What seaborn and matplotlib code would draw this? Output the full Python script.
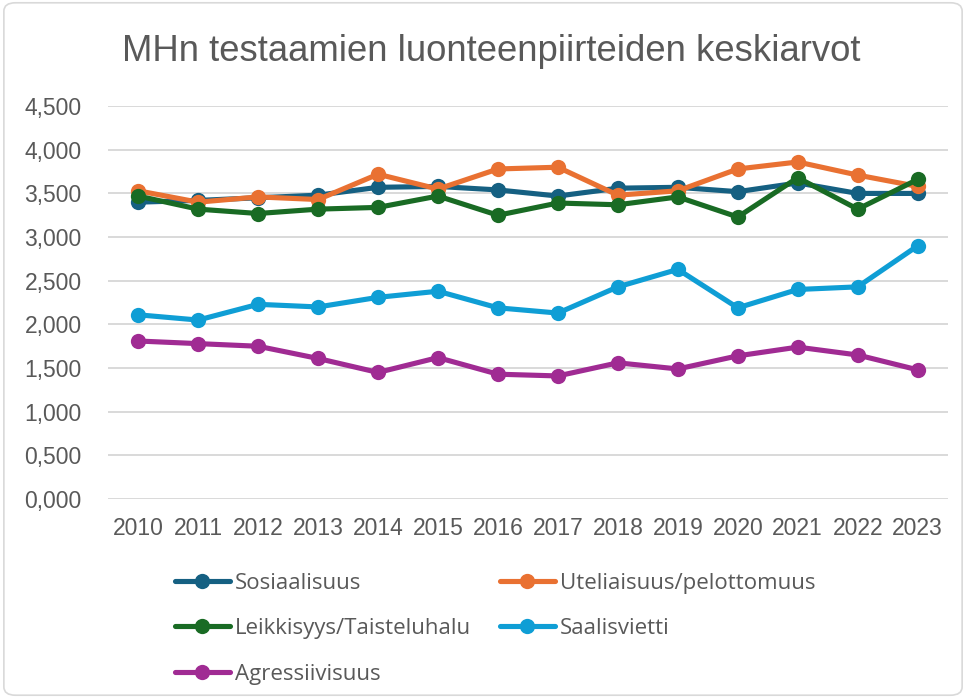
import matplotlib
matplotlib.use("Agg")
import matplotlib.pyplot as plt
import pandas as pd
import seaborn as sns
from matplotlib.lines import Line2D
from matplotlib.patches import FancyBboxPatch
from matplotlib.ticker import FuncFormatter

years = list(range(2010, 2024))
sosiaalisuus = [3.40, 3.42, 3.45, 3.48, 3.57, 3.58, 3.54, 3.47, 3.56, 3.57, 3.52, 3.62, 3.50, 3.50]
uteliaisuus = [3.53, 3.40, 3.46, 3.43, 3.72, 3.55, 3.78, 3.80, 3.48, 3.53, 3.78, 3.86, 3.71, 3.58]
leikkisyys = [3.47, 3.32, 3.27, 3.32, 3.34, 3.47, 3.25, 3.39, 3.37, 3.46, 3.23, 3.68, 3.32, 3.66]
saalisvietti = [2.11, 2.05, 2.23, 2.20, 2.31, 2.38, 2.19, 2.13, 2.43, 2.63, 2.19, 2.40, 2.43, 2.90]
agressiivisuus = [1.81, 1.78, 1.75, 1.61, 1.45, 1.62, 1.43, 1.41, 1.56, 1.49, 1.64, 1.74, 1.65, 1.48]

series_names = [
    "Sosiaalisuus",
    "Uteliaisuus/pelottomuus",
    "Leikkisyys/Taisteluhalu",
    "Saalisvietti",
    "Agressiivisuus",
]
series_values = [sosiaalisuus, uteliaisuus, leikkisyys, saalisvietti, agressiivisuus]
colors = ["#156082", "#E97132", "#196B24", "#0F9ED5", "#A02B93"]

df = pd.DataFrame(
    [(name, y, v) for name, vals in zip(series_names, series_values) for y, v in zip(years, vals)],
    columns=["trait", "year", "value"],
)

sns.set_theme(style="white")
plt.rcParams["font.family"] = ["Liberation Sans", "DejaVu Sans"]
text_color = "#595959"

fig = plt.figure(figsize=(9.66, 6.98), dpi=100)
ax = fig.add_axes([0.112, 0.285, 0.869, 0.563])

palette = dict(zip(series_names, colors))
sns.lineplot(
    data=df,
    x="year",
    y="value",
    hue="trait",
    hue_order=series_names,
    palette=palette,
    marker="o",
    markersize=11,
    markeredgewidth=0,
    linewidth=3.7,
    legend=False,
    ax=ax,
)

ax.set_xlim(2009.5, 2023.5)
ax.set_ylim(0, 4.5)
ax.set_xticks(years)
ax.set_yticks([i * 0.5 for i in range(10)])
ax.yaxis.set_major_formatter(FuncFormatter(lambda v, _: f"{v:,.3f}".replace(".", ",")))
ax.tick_params(axis="both", length=0, labelsize=16.5, colors=text_color)
ax.tick_params(axis="x", pad=13)
ax.tick_params(axis="y", pad=19)
ax.grid(axis="y", color="#D9D9D9", linewidth=1.4)
ax.set_axisbelow(True)
for s in ax.spines.values():
    s.set_visible(False)
ax.set_xlabel("")
ax.set_ylabel("")

fig.text(0.509, 0.926, "MHn testaamien luonteenpiirteiden keskiarvot",
         ha="center", va="center", fontsize=26.3, color=text_color)

order = [0, 2, 4, 1, 3]
handles = [
    Line2D([], [], color=colors[i], linewidth=3.7, marker="o", markersize=11, markeredgewidth=0)
    for i in order
]
labels = [series_names[i] for i in order]
fig.legend(
    handles, labels, ncol=2, loc="upper left", bbox_to_anchor=(0.160, 0.208),
    frameon=False, labelcolor=text_color, handlelength=2.5,
    columnspacing=1.3, labelspacing=1.1, handletextpad=0.2,
    prop={"family": ["Open Sans", "DejaVu Sans"], "size": 16},
)

border = FancyBboxPatch((0.004, 0.004), 0.992, 0.992, boxstyle="round,pad=0,rounding_size=0.012",
                        transform=fig.transFigure, facecolor="none", edgecolor="#D9D9D9", linewidth=1.2)
fig.patches.append(border)

fig.savefig("out.png", dpi=100)
